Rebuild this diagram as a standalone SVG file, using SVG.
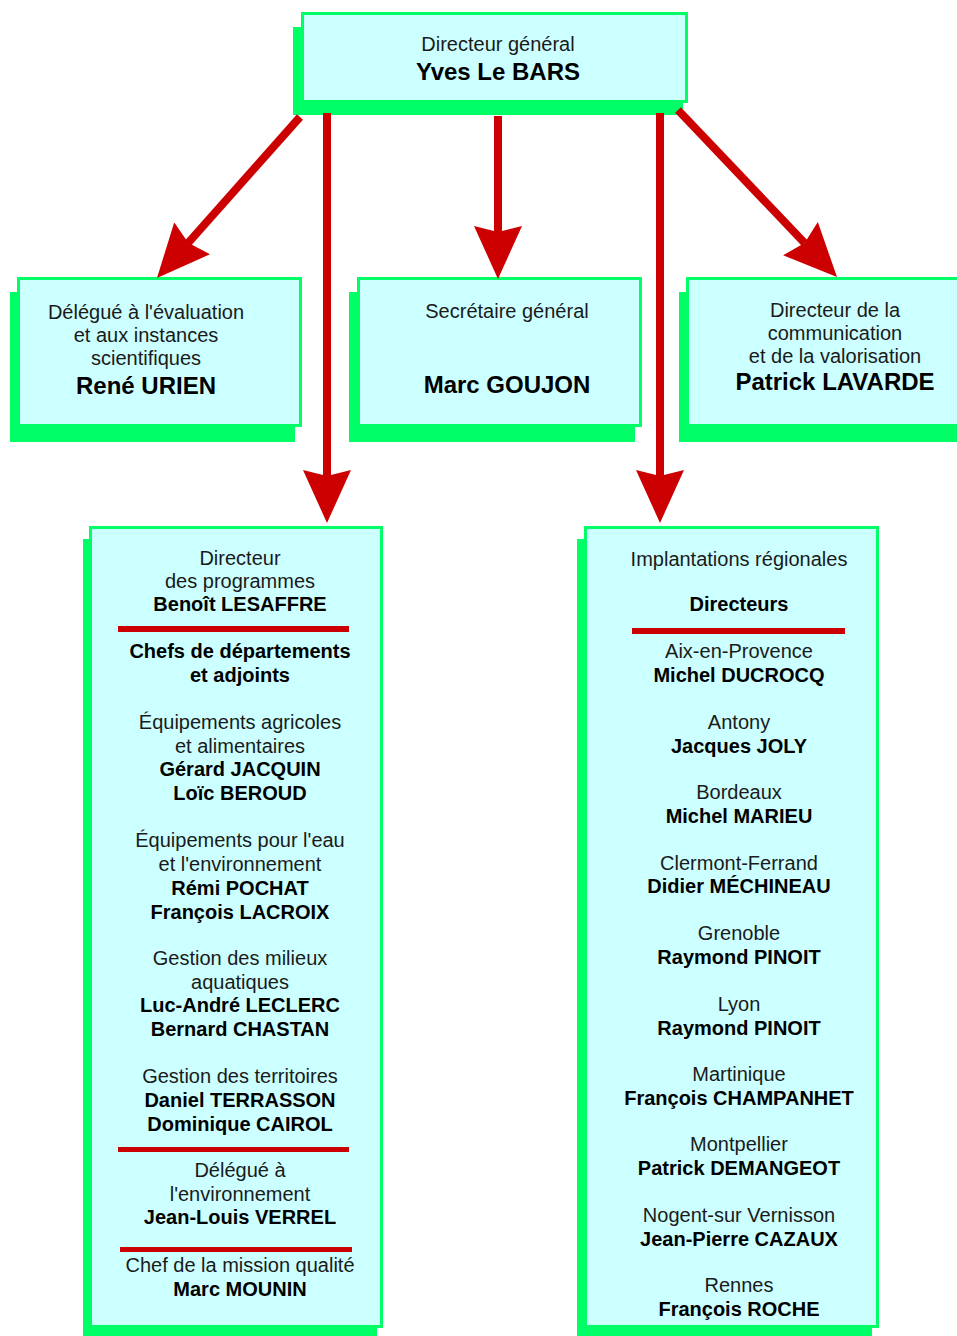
<svg xmlns="http://www.w3.org/2000/svg" width="957" height="1336" viewBox="0 0 957 1336">
  <style>
    .shadow { fill: #00ff66; }
    .box { fill: #ccffff; stroke: #00ff66; stroke-width: 3; }
    .t { font-family: "Liberation Sans", Arial, sans-serif; font-size: 20px; fill: #1a1a1a; text-anchor: middle; }
    .b { font-family: "Liberation Sans", Arial, sans-serif; font-size: 20px; font-weight: bold; fill: #000; text-anchor: middle; }
    .bl { font-size: 24px; }
    .rule { fill: #cc0000; }
    .link { stroke: #cc0000; stroke-width: 8; fill: none; marker-end: url(#head); }
  </style>
  <defs>
    <marker id="head" markerUnits="userSpaceOnUse" viewBox="0 0 53 48" refX="6" refY="24" markerWidth="53" markerHeight="48" orient="auto">
      <path d="M0,0 L53,24 L0,48 L6,24 Z" fill="#cc0000"/>
    </marker>
  </defs>

  <rect width="957" height="1336" fill="#ffffff"/>

  <!-- Director general -->
  <g id="node-directeur-general">
    <rect class="shadow" x="293" y="27" width="390" height="88"/>
    <rect class="box" x="302.5" y="13.5" width="384" height="88"/>
    <text class="t" x="498" y="51">Directeur général</text>
    <text class="b bl" x="498" y="80">Yves Le BARS</text>
  </g>

  <!-- Evaluation delegate -->
  <g id="node-delegue-evaluation">
    <rect class="shadow" x="10" y="292" width="285" height="150"/>
    <rect class="box" x="18.5" y="278.5" width="282" height="147"/>
    <text class="t" x="146" y="319">Délégué à l'évaluation</text>
    <text class="t" x="146" y="342">et aux instances</text>
    <text class="t" x="146" y="365">scientifiques</text>
    <text class="b bl" x="146" y="394">René URIEN</text>
  </g>

  <!-- Secretary general -->
  <g id="node-secretaire-general">
    <rect class="shadow" x="349" y="292" width="286" height="150"/>
    <rect class="box" x="358.5" y="278.5" width="282" height="147"/>
    <text class="t" x="507" y="318">Secrétaire général</text>
    <text class="b bl" x="507" y="393">Marc GOUJON</text>
  </g>

  <!-- Communication director -->
  <g id="node-directeur-communication">
    <rect class="shadow" x="679" y="292" width="290" height="150"/>
    <rect class="box" x="687.5" y="278.5" width="280" height="147"/>
    <text class="t" x="835" y="317">Directeur de la</text>
    <text class="t" x="835" y="340">communication</text>
    <text class="t" x="835" y="363">et de la valorisation</text>
    <text class="b bl" x="835" y="390">Patrick LAVARDE</text>
  </g>

  <!-- Programmes director and departments -->
  <g id="node-directeur-programmes">
    <rect class="shadow" x="83" y="539" width="294" height="800"/>
    <rect class="box" x="90.5" y="527.5" width="291" height="799"/>
    <text class="t" x="240" y="565">Directeur</text>
    <text class="t" x="240" y="588">des programmes</text>
    <text class="b" x="240" y="611">Benoît LESAFFRE</text>
    <rect class="rule" x="118" y="626" width="231" height="6"/>
    <text class="b" x="240" y="658">Chefs de départements</text>
    <text class="b" x="240" y="682">et adjoints</text>
    <text class="t" x="240" y="729">Équipements agricoles</text>
    <text class="t" x="240" y="753">et alimentaires</text>
    <text class="b" x="240" y="776">Gérard JACQUIN</text>
    <text class="b" x="240" y="800">Loïc BEROUD</text>
    <text class="t" x="240" y="847">Équipements pour l'eau</text>
    <text class="t" x="240" y="871">et l'environnement</text>
    <text class="b" x="240" y="895">Rémi POCHAT</text>
    <text class="b" x="240" y="919">François LACROIX</text>
    <text class="t" x="240" y="965">Gestion des milieux</text>
    <text class="t" x="240" y="989">aquatiques</text>
    <text class="b" x="240" y="1012">Luc-André LECLERC</text>
    <text class="b" x="240" y="1036">Bernard CHASTAN</text>
    <text class="t" x="240" y="1083">Gestion des territoires</text>
    <text class="b" x="240" y="1107">Daniel TERRASSON</text>
    <text class="b" x="240" y="1131">Dominique CAIROL</text>
    <rect class="rule" x="118" y="1147" width="231" height="5"/>
    <text class="t" x="240" y="1177">Délégué à</text>
    <text class="t" x="240" y="1201">l'environnement</text>
    <text class="b" x="240" y="1224">Jean-Louis VERREL</text>
    <rect class="rule" x="120" y="1247" width="232" height="5"/>
    <text class="t" x="240" y="1272">Chef de la mission qualité</text>
    <text class="b" x="240" y="1296">Marc MOUNIN</text>
  </g>

  <!-- Regional sites -->
  <g id="node-implantations-regionales">
    <rect class="shadow" x="577" y="539" width="295" height="800"/>
    <rect class="box" x="585.5" y="527.5" width="292" height="799"/>
    <text class="t" x="739" y="566">Implantations régionales</text>
    <text class="b" x="739" y="611">Directeurs</text>
    <rect class="rule" x="632" y="628" width="213" height="6"/>
    <text class="t" x="739" y="658">Aix-en-Provence</text>
    <text class="b" x="739" y="682">Michel DUCROCQ</text>
    <text class="t" x="739" y="729">Antony</text>
    <text class="b" x="739" y="753">Jacques JOLY</text>
    <text class="t" x="739" y="799">Bordeaux</text>
    <text class="b" x="739" y="823">Michel MARIEU</text>
    <text class="t" x="739" y="870">Clermont-Ferrand</text>
    <text class="b" x="739" y="893">Didier MÉCHINEAU</text>
    <text class="t" x="739" y="940">Grenoble</text>
    <text class="b" x="739" y="964">Raymond PINOIT</text>
    <text class="t" x="739" y="1011">Lyon</text>
    <text class="b" x="739" y="1035">Raymond PINOIT</text>
    <text class="t" x="739" y="1081">Martinique</text>
    <text class="b" x="739" y="1105">François CHAMPANHET</text>
    <text class="t" x="739" y="1151">Montpellier</text>
    <text class="b" x="739" y="1175">Patrick DEMANGEOT</text>
    <text class="t" x="739" y="1222">Nogent-sur Vernisson</text>
    <text class="b" x="739" y="1246">Jean-Pierre CAZAUX</text>
    <text class="t" x="739" y="1292">Rennes</text>
    <text class="b" x="739" y="1316">François ROCHE</text>
  </g>

  <!-- Reporting lines -->
  <g id="connectors">
    <line class="link" x1="300" y1="117" x2="188.2" y2="242.8"/>
    <line class="link" x1="327" y1="113" x2="327" y2="476"/>
    <line class="link" x1="498" y1="116" x2="498" y2="232"/>
    <line class="link" x1="660" y1="113" x2="660" y2="476"/>
    <line class="link" x1="678" y1="110" x2="804.6" y2="243"/>
  </g>
</svg>
